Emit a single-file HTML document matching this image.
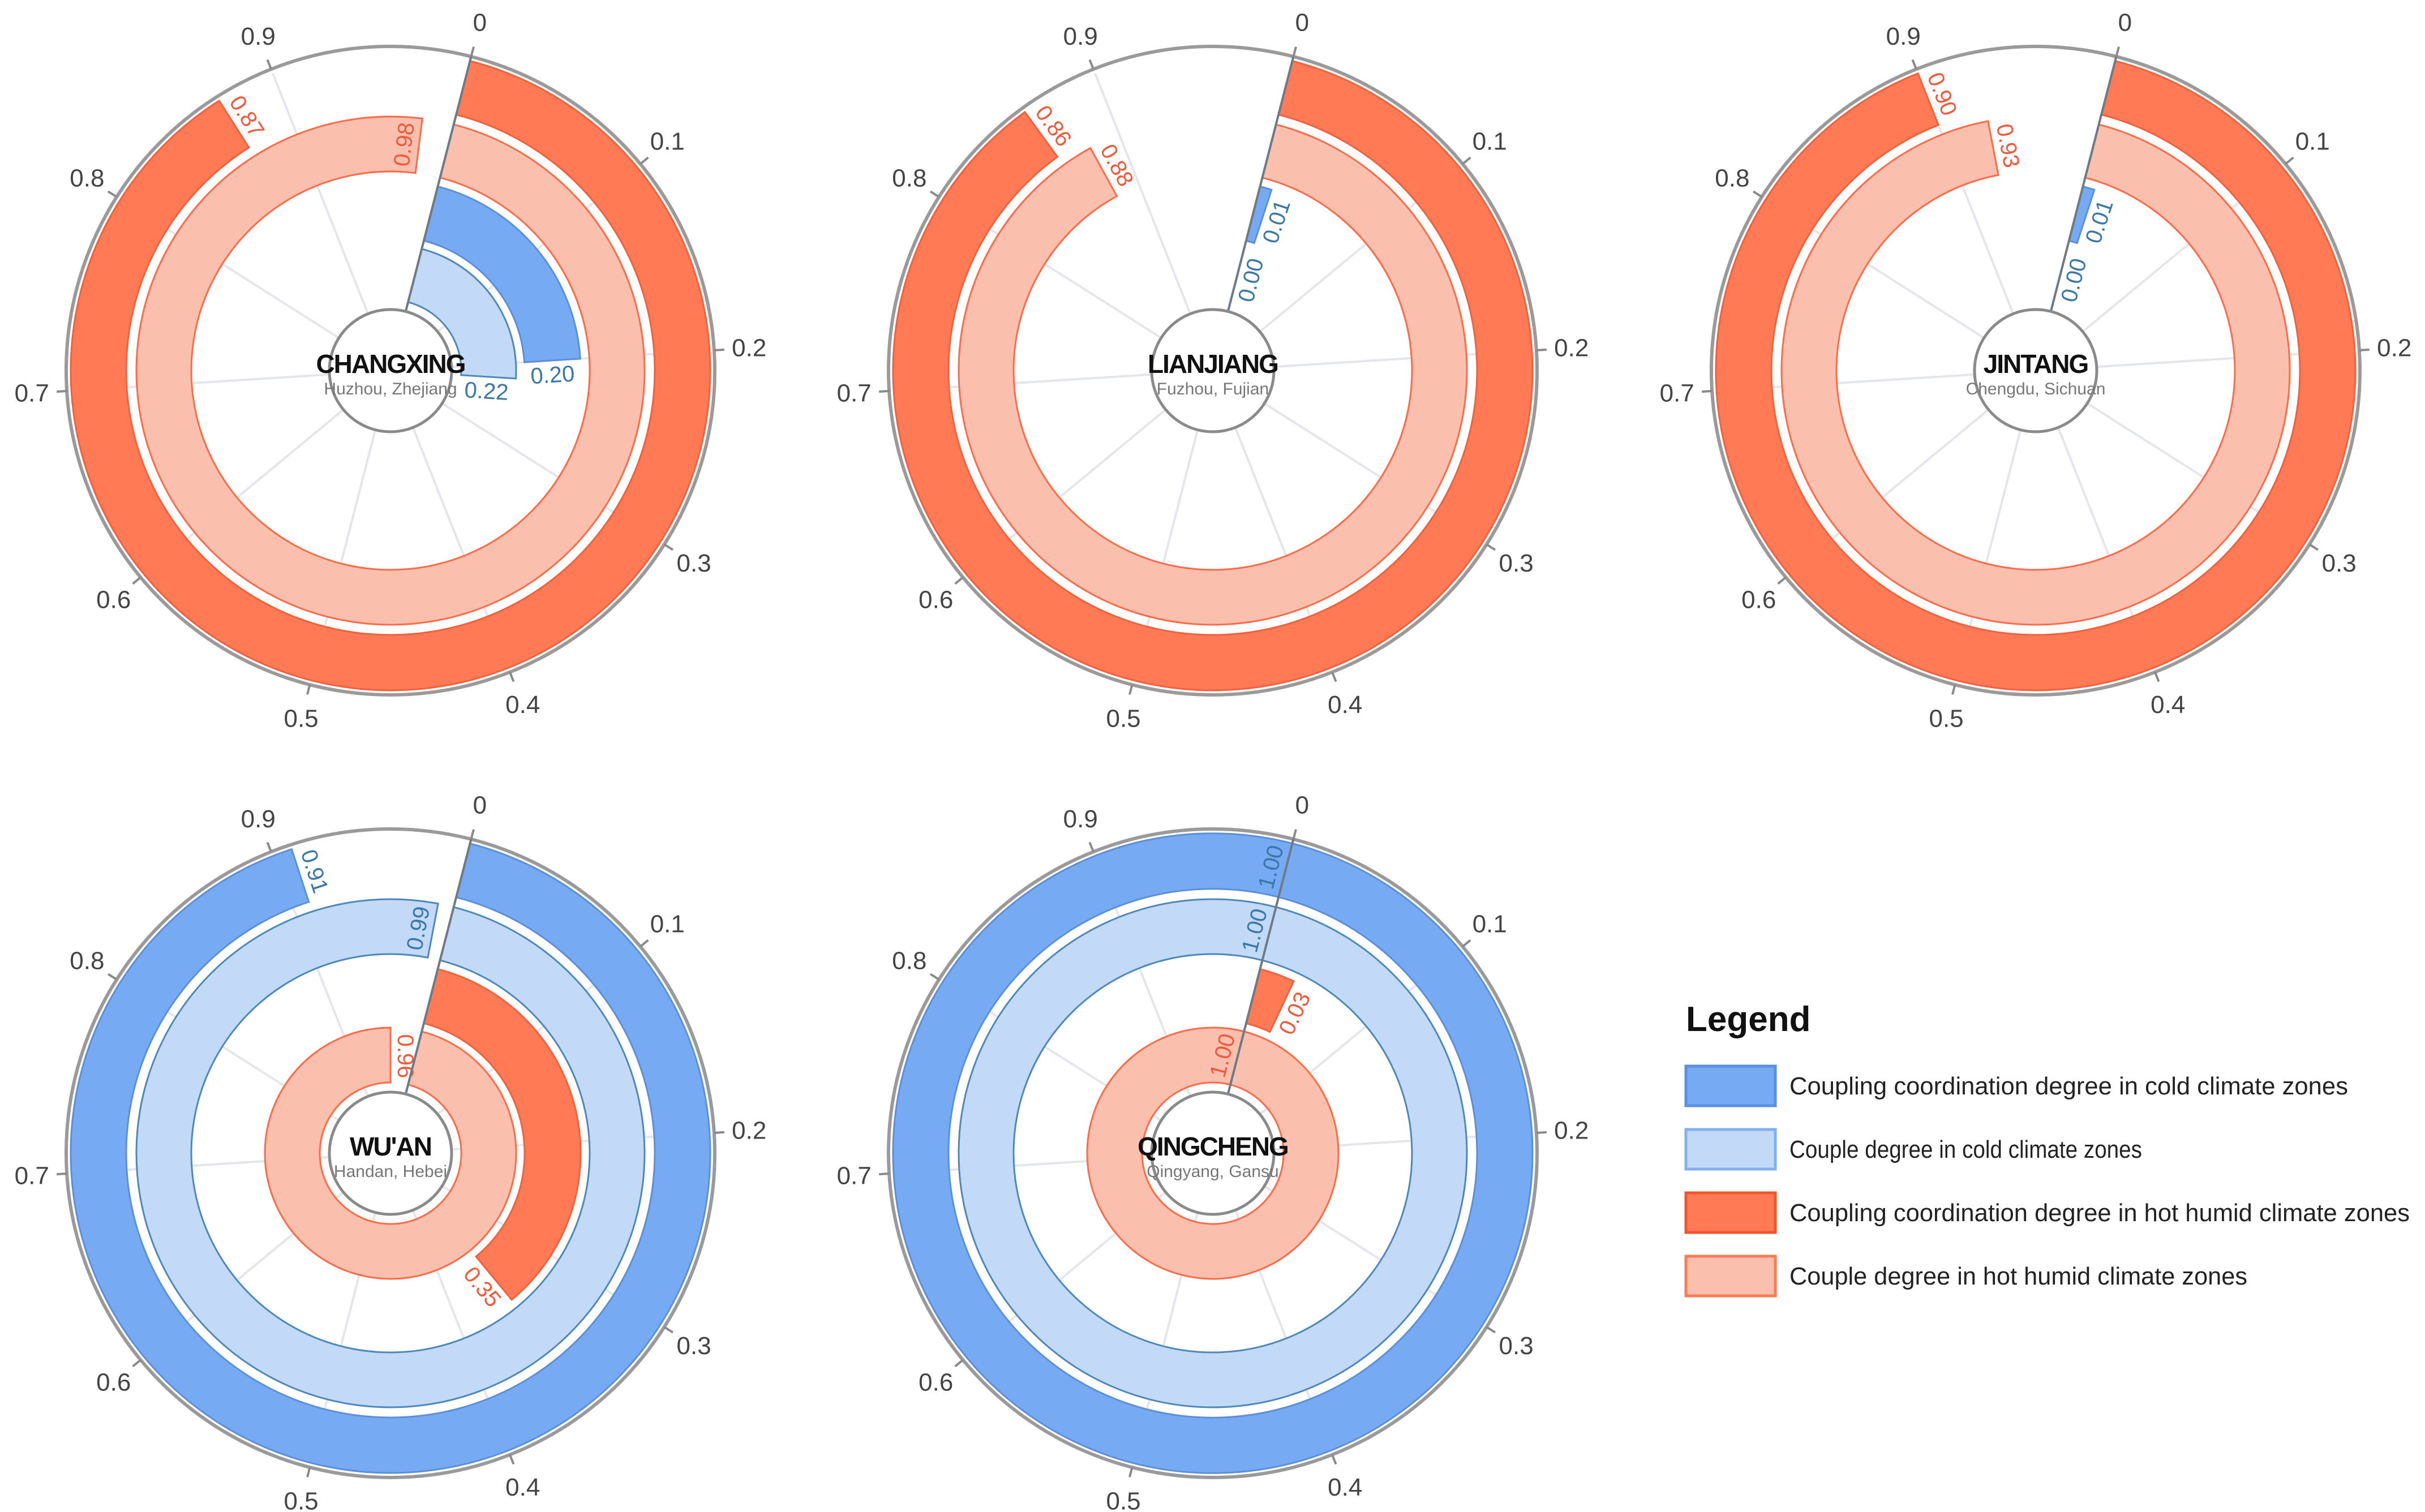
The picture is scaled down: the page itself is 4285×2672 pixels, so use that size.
<!DOCTYPE html>
<html><head><meta charset="utf-8"><style>
html,body{margin:0;padding:0;background:#fff;}
svg{display:block;}
</style></head><body>
<svg id="chart" width="4285" height="2672" viewBox="0 0 4285 2672" xmlns="http://www.w3.org/2000/svg">
<g id="plots"></g>
<g id="legend">
  <text x="2979" y="1822" font-family="Liberation Sans, sans-serif" font-size="62" font-weight="bold" fill="#111">Legend</text>
  <g>
    <rect x="2979" y="1884" width="158" height="70" fill="#76aaf3" stroke="#5b8fe0" stroke-width="5"/>
    <text x="3162" y="1934" font-family="Liberation Sans, sans-serif" font-size="44" fill="#222" textLength="987" lengthAdjust="spacingAndGlyphs">Coupling coordination degree in cold climate zones</text>
  </g>
  <g>
    <rect x="2979" y="1996" width="158" height="70" fill="#c2d9f8" stroke="#7fb0f0" stroke-width="5"/>
    <text x="3162" y="2046" font-family="Liberation Sans, sans-serif" font-size="44" fill="#222" textLength="623" lengthAdjust="spacingAndGlyphs">Couple degree in cold climate zones</text>
  </g>
  <g>
    <rect x="2979" y="2108" width="158" height="70" fill="#ff7a55" stroke="#f05530" stroke-width="5"/>
    <text x="3162" y="2158" font-family="Liberation Sans, sans-serif" font-size="44" fill="#222" textLength="1096" lengthAdjust="spacingAndGlyphs">Coupling coordination degree in hot humid climate zones</text>
  </g>
  <g>
    <rect x="2979" y="2220" width="158" height="70" fill="#fbbfad" stroke="#ff7a55" stroke-width="5"/>
    <text x="3162" y="2270" font-family="Liberation Sans, sans-serif" font-size="44" fill="#222" textLength="809" lengthAdjust="spacingAndGlyphs">Couple degree in hot humid climate zones</text>
  </g>
</g>
</svg>
<script>
const cityNames = ["CHANGXING","LIANJIANG","JINTANG","WU'AN","QINGCHENG"];
const citySubtitles = ["Huzhou, Zhejiang","Fuzhou, Fujian","Chengdu, Sichuan","Handan, Hebei","Qingyang, Gansu"];
const cityClimate = ["hot","hot","hot","cold","cold"];
const ring1Values = [0.87,0.86,0.90,0.91,1.00];
const ring2Values = [0.98,0.88,0.93,0.99,1.00];
const ring3Values = [0.20,0.01,0.01,0.35,0.03];
const ring4Values = [0.22,0.00,0.00,0.96,1.00];
const tickLabels = ["0","0.1","0.2","0.3","0.4","0.5","0.6","0.7","0.8","0.9"];

const NS="http://www.w3.org/2000/svg";
const centers=[[690,655],[2143,655],[3597,655],[690,2038],[2143,2038]];
const START=14.4, OUTER=573;
const rings=[[467,565],[352,449],[237,336],[125,222]];
const STY={
 hotCC:{fill:"#ff7a55",stroke:"#f2603c",lab:"#f2583a"},
 hotC:{fill:"#fbbfad",stroke:"#ff6a48",lab:"#f2583a"},
 coldCC:{fill:"#76aaf3",stroke:"#5b8fd8",lab:"#3a78a8"},
 coldC:{fill:"#c2d9f8",stroke:"#4d88b8",lab:"#3a78a8"}
};
function ang(v){return START+v*360;}
function pt(cx,cy,r,a){const t=a*Math.PI/180;return [cx+r*Math.sin(t),cy-r*Math.cos(t)];}
function circ(cx,cy,r){return `M${cx-r},${cy} A${r},${r} 0 1 1 ${cx+r},${cy} A${r},${r} 0 1 1 ${cx-r},${cy} Z`;}
function sector(cx,cy,r0,r1,a0,a1){
  if(a1-a0>=359.99){
    return circ(cx,cy,r1)+" "+circ(cx,cy,r0);
  }
  const large=(a1-a0)>180?1:0;
  const p1=pt(cx,cy,r1,a0),p2=pt(cx,cy,r1,a1),p3=pt(cx,cy,r0,a1),p4=pt(cx,cy,r0,a0);
  return `M${p1[0]},${p1[1]} A${r1},${r1} 0 ${large} 1 ${p2[0]},${p2[1]} L${p3[0]},${p3[1]} A${r0},${r0} 0 ${large} 0 ${p4[0]},${p4[1]} Z`;
}
function mk(tag,attrs,parent){const e=document.createElementNS(NS,tag);for(const k in attrs)e.setAttribute(k,attrs[k]);parent.appendChild(e);return e;}
const plots=document.getElementById("plots");
cityNames.forEach((name,i)=>{
  const [cx,cy]=centers[i];
  const g=mk("g",{},plots);
  
  
  for(let k=0;k<10;k++){
    const a=ang(k/10);const p0=pt(cx,cy,108,a),p1=pt(cx,cy,565,a);
    const s=mk("line",{x1:p0[0],y1:p0[1],x2:p1[0],y2:p1[1],stroke:"#e4e6ec","stroke-width":4},g);
    
    
  }
  const oc=mk("circle",{cx:cx,cy:cy,r:OUTER,fill:"none",stroke:"#9a9a9a","stroke-width":6},g);
  
  
  tickLabels.forEach((t,k)=>{
    const a=ang(k/10);const p0=pt(cx,cy,OUTER,a),p1=pt(cx,cy,OUTER+18,a),pl=pt(cx,cy,OUTER+62,a);
    const tk=mk("line",{x1:p0[0],y1:p0[1],x2:p1[0],y2:p1[1],stroke:"#8a8a8a","stroke-width":4},g);
    
    
    const tl=mk("text",{x:pl[0],y:pl[1],"text-anchor":"middle","dominant-baseline":"central","font-family":"Liberation Sans, sans-serif","font-size":44,fill:"#444"},g);
    tl.textContent=t;
    
    
  });
  const hot=cityClimate[i]==="hot";
  const styles=hot?[STY.hotCC,STY.hotC,STY.coldCC,STY.coldC]:[STY.coldCC,STY.coldC,STY.hotCC,STY.hotC];
  const vals=[ring1Values[i],ring2Values[i],ring3Values[i],ring4Values[i]];
  vals.forEach((v,r)=>{
    const [r0,r1]=rings[r];const st=styles[r];
    const a0=ang(0),a1=ang(v);
    if(v>0.0005){
      const p=mk("path",{d:sector(cx,cy,r0,r1,a0,a1),fill:st.fill,"fill-rule":"evenodd",stroke:st.stroke,"stroke-width":3},g);
      
      
    }
    const rm=(r0+r1)/2;
    const d=(26/rm)*180/Math.PI;
    const la=v>0.97?a1-d:a1+d;
    const lp=pt(cx,cy,rm,la);
    let rot=a1-90;while(rot>90)rot-=180;while(rot<=-90)rot+=180;
    const lt=mk("text",{x:lp[0],y:lp[1],"text-anchor":"middle","dominant-baseline":"central","font-family":"Liberation Sans, sans-serif","font-size":40,fill:st.lab,transform:`rotate(${rot} ${lp[0]} ${lp[1]})`},g);
    lt.textContent=v.toFixed(2);
    
    
  });
  const z0=pt(cx,cy,108,ang(0)),z1=pt(cx,cy,OUTER,ang(0));
  const zl=mk("line",{x1:z0[0],y1:z0[1],x2:z1[0],y2:z1[1],stroke:"#6e7a84","stroke-width":4},g);
  
  
  const cc=mk("circle",{cx:cx,cy:cy,r:108,fill:"#fff",stroke:"#8a8a8a","stroke-width":5},g);
  
  
  const nt=mk("text",{x:cx,y:cy+4,"text-anchor":"middle","font-family":"Liberation Sans, sans-serif","font-size":46,"font-weight":"bold",fill:"#111","letter-spacing":"-2"},g);
  nt.textContent=name;
  
  
  const stx=mk("text",{x:cx,y:cy+42,"text-anchor":"middle","font-family":"Liberation Sans, sans-serif","font-size":30,fill:"#777"},g);
  stx.textContent=citySubtitles[i];
  
  
});
</script>
</body></html>
